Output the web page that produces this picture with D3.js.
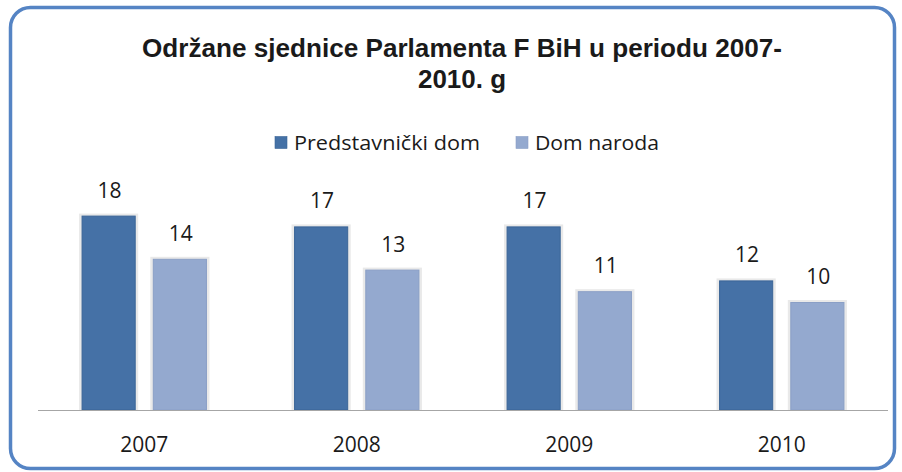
<!DOCTYPE html>
<html>
<head>
<meta charset="utf-8">
<script src="https://cdn.jsdelivr.net/npm/d3@7"></script>
<style>
  html, body { margin: 0; padding: 0; background: #fff; }
  svg { display: block; }
  text { font-family: "Open Sans", "Noto Sans", sans-serif; fill: #1a1a1a; }
</style>
</head>
<body>
<svg id="chart" width="902" height="472"></svg>
<script>
const categories = ["2007", "2008", "2009", "2010"];
const seriesNames = ["Predstavnički dom", "Dom naroda"];
const predstavnickiDom = [18, 17, 17, 12];
const domNaroda = [14, 13, 11, 10];
const titleLines = ["Održane sjednice Parlamenta F BiH u periodu 2007-", "2010. g"];

const colors = ["#4571A6", "#94A9CF"];
const strokes = ["#3B6597", "#8A9FC6"];

const svg = d3.select("#chart");

// frame
svg.append("rect")
  .attr("x", 10.5).attr("y", 7.5)
  .attr("width", 884).attr("height", 461)
  .attr("rx", 20).attr("ry", 20)
  .attr("fill", "#fff")
  .attr("stroke", "#5584C4")
  .attr("stroke-width", 3.5);

// title
const title = svg.append("g");
titleLines.forEach((t, i) => {
  const tx = title.append("text")
    .attr("x", 462).attr("y", 57 + i * 31)
    .attr("text-anchor", "middle")
    .attr("font-size", 26)
    .attr("font-weight", "bold")
    .style("font-family", "'Liberation Sans', Arial, sans-serif")
    .text(t);
  if (i === 0) tx.attr("textLength", 640).attr("lengthAdjust", "spacingAndGlyphs");
  else tx.attr("textLength", 88).attr("lengthAdjust", "spacingAndGlyphs");
});

// scales
const x0 = d3.scaleBand().domain(categories).range([38, 888]).paddingInner(0.41).paddingOuter(0.205);
const x1 = d3.scaleBand().domain(seriesNames).range([0, x0.bandwidth()]).paddingInner(0.24);
const y = d3.scaleLinear().domain([0, 20]).range([410, 194]);

const data = categories.map((c, i) => ({
  cat: c,
  vals: [
    { s: seriesNames[0], v: predstavnickiDom[i], k: 0 },
    { s: seriesNames[1], v: domNaroda[i], k: 1 }
  ]
}));

const groups = svg.append("g").selectAll("g").data(data).join("g")
  .attr("transform", d => `translate(${x0(d.cat)},0)`);

// halo / shadow
groups.selectAll("rect.halo").data(d => d.vals).join("rect")
  .attr("class", "halo")
  .attr("x", d => x1(d.s) - 2.5)
  .attr("y", d => y(d.v) - 2)
  .attr("width", x1.bandwidth() + 5)
  .attr("height", d => y(0) - y(d.v) + 2)
  .attr("fill", "#e9e9e9");

groups.selectAll("rect.bar").data(d => d.vals).join("rect")
  .attr("class", "bar")
  .attr("x", d => x1(d.s) + 0.5)
  .attr("y", d => y(d.v) + 0.5)
  .attr("width", x1.bandwidth() - 1)
  .attr("height", d => y(0) - y(d.v) - 0.5)
  .attr("fill", d => colors[d.k])
  .attr("stroke", d => strokes[d.k])
  .attr("stroke-width", 1);

groups.selectAll("text.val").data(d => d.vals).join("text")
  .attr("class", "val")
  .attr("x", d => x1(d.s) + x1.bandwidth() / 2 + 1)
  .attr("y", d => y(d.v) - 18)
  .attr("text-anchor", "middle")
  .attr("font-size", 21)
  .text(d => d.v);

// x axis
const xAxis = d3.axisBottom(x0).tickSize(0).tickPadding(0);
const ax = svg.append("g").attr("transform", `translate(0,${y(0)})`).call(xAxis);
ax.select(".domain").attr("stroke", "#a6a6a6").attr("stroke-width", 1.2).attr("d", "M38,0.5H888");
ax.selectAll(".tick text")
  .attr("y", 42)
  .attr("dy", null)
  .attr("font-size", 21)
  .attr("font-family", "'Open Sans', 'Noto Sans', sans-serif")
  .attr("fill", "#1a1a1a");

// legend
const legendItems = [
  { name: seriesNames[0], k: 0, sx: 275, tx: 294, w: 186 },
  { name: seriesNames[1], k: 1, sx: 516, tx: 535, w: 124 }
];
const lg = svg.append("g");
legendItems.forEach(it => {
  lg.append("rect").attr("x", it.sx).attr("y", 136.5).attr("width", 12).attr("height", 12)
    .attr("fill", colors[it.k]).attr("stroke", strokes[it.k]).attr("stroke-width", 0.6);
  lg.append("text").attr("x", it.tx).attr("y", 150)
    .attr("font-size", 20)
    .attr("textLength", it.w).attr("lengthAdjust", "spacingAndGlyphs")
    .text(it.name);
});
</script>
</body>
</html>
